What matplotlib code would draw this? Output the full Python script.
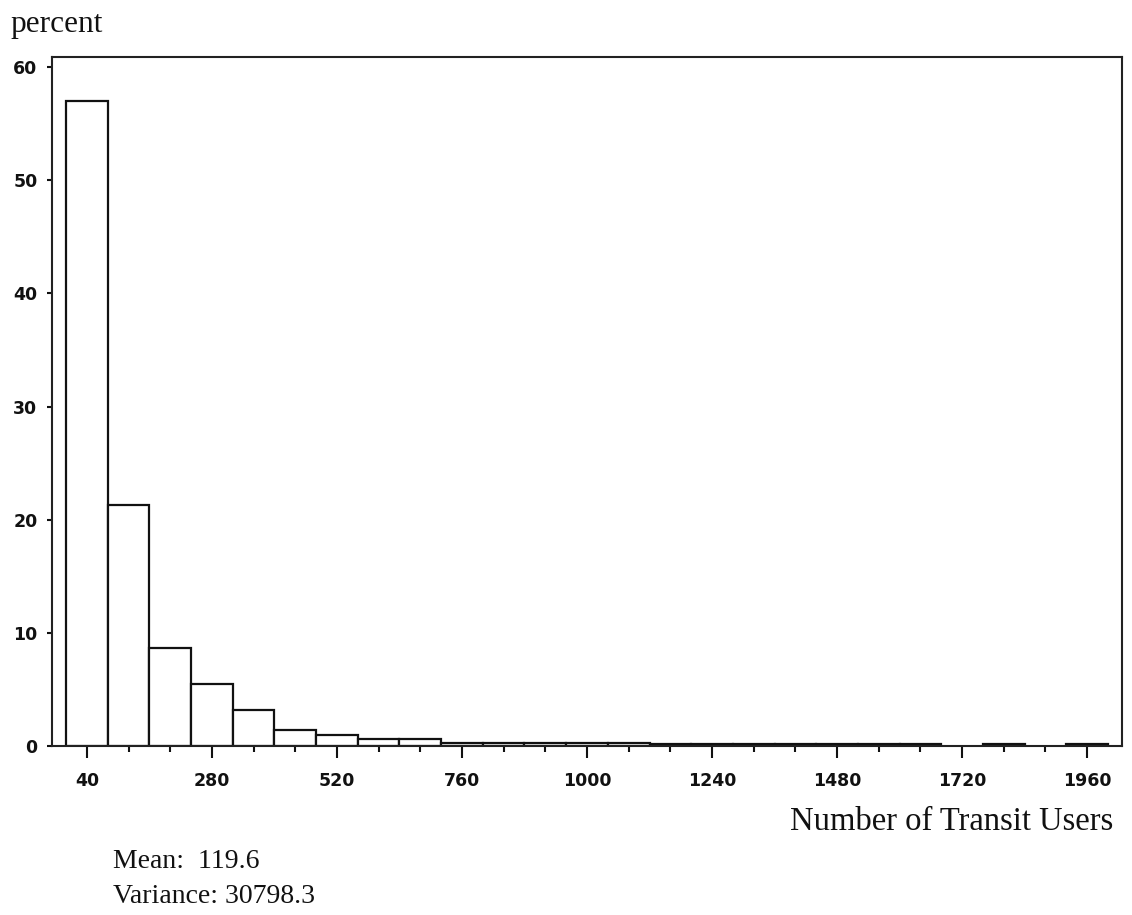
import matplotlib
matplotlib.use("Agg")
import matplotlib.pyplot as plt
import numpy as np

# ---- data ----
bin_centers = [40, 120, 200, 280, 360, 440, 520, 600, 680, 760, 840, 920, 1000,
               1080, 1160, 1240, 1320, 1400, 1480, 1560, 1640, 1720, 1800, 1880, 1960]
percents = [57.0, 21.3, 8.7, 5.5, 3.2, 1.4, 1.0, 0.6, 0.6, 0.3, 0.3, 0.3, 0.3,
            0.3, 0.15, 0.15, 0.15, 0.15, 0.15, 0.15, 0.15, 0.0, 0.15, 0.0, 0.15]
bin_width = 80
x_major_ticks = [40, 280, 520, 760, 1000, 1240, 1480, 1720, 1960]
y_ticks = [0, 10, 20, 30, 40, 50, 60]
y_label = "percent"
x_label = "Number of Transit Users"
stats_lines = ["Mean:  119.6", "Variance: 30798.3"]

# ---- figure ----
W, H = 1132, 915
fig = plt.figure(figsize=(W / 100, H / 100), dpi=100)
fig.patch.set_facecolor("white")

left, right, top, bottom = 52, 1122, 57, 746
ax = fig.add_axes([left / W, 1 - bottom / H, (right - left) / W, (bottom - top) / H])

xs = [c for c, p in zip(bin_centers, percents) if p > 0]
ps = [p for p in percents if p > 0]
ax.bar(xs, ps, width=bin_width, facecolor="white", edgecolor="#111111",
       linewidth=1.6, align="center", zorder=2)

ax.set_xlim(-27, 2027)
ax.set_ylim(0, 60.9)

for s in ax.spines.values():
    s.set_linewidth(1.5)
    s.set_color("#222222")

ax.set_xticks(x_major_ticks)
ax.set_xticks([c for c in bin_centers if c not in x_major_ticks], minor=True)
ax.set_yticks(y_ticks)

serif = ["Liberation Serif", "DejaVu Serif"]
tick_font = dict(family="DejaVu Sans", weight="bold", size=12.5)
ax.set_xticklabels([str(t) for t in x_major_ticks], fontdict=tick_font)
ax.set_yticklabels([str(t) for t in y_ticks], fontdict=tick_font)

ax.tick_params(axis="x", which="major", direction="out", length=8.5, width=1.5,
               pad=10, colors="#111111")
ax.tick_params(axis="x", which="minor", direction="out", length=4.3, width=1.5,
               colors="#111111")
ax.tick_params(axis="y", which="major", direction="out", length=3.5, width=1.5,
               pad=7, colors="#111111")

# texts
fig.text(10 / W, 1 - 32 / H, y_label, family=serif, size=22.5,
         ha="left", va="baseline", color="#111111")
fig.text(1113 / W, 1 - 830 / H, x_label, family=serif, size=23.5,
         ha="right", va="baseline", color="#111111")
fig.text(113 / W, 1 - 868 / H, stats_lines[0], family=serif, size=20,
         ha="left", va="baseline", color="#111111")
fig.text(113 / W, 1 - 903 / H, stats_lines[1], family=serif, size=20,
         ha="left", va="baseline", color="#111111")

fig.savefig("out.png", dpi=100, facecolor="white")
